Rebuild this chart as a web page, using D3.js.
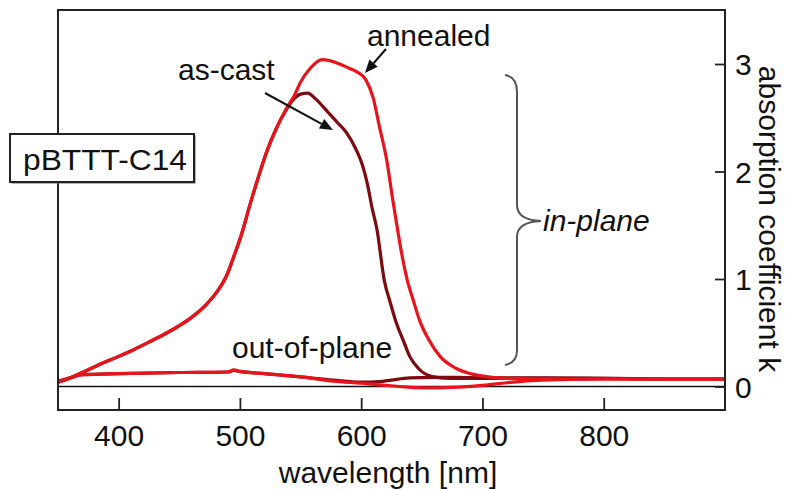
<!DOCTYPE html>
<html>
<head>
<meta charset="utf-8">
<script src="https://cdn.jsdelivr.net/npm/d3@7"></script>
<style>
  html, body { margin: 0; padding: 0; background: #fff; }
  svg { display: block; }
  text { font-family: "Liberation Sans", Arial, Helvetica, sans-serif; fill: #111; }
</style>
</head>
<body>
<svg id="chart" width="785" height="490"></svg>
<script>
// ---------------- data ----------------
const xTicks = [400, 500, 600, 700, 800];
const yTicks = [0, 1, 2, 3];

// in-plane, annealed (bright red)
const annealedWl = [350, 360, 372, 385, 400, 412, 428, 440, 452, 461, 472, 481, 489, 495, 502, 508, 515, 522, 530, 538, 545, 550, 558, 568, 580, 590, 596, 604, 610, 615, 621, 626, 630, 634, 638, 643, 648, 656, 665, 678, 690, 705, 720, 760, 800, 850, 900];
const annealedK  = [0.04, 0.08, 0.14, 0.21, 0.28, 0.34, 0.43, 0.50, 0.58, 0.65, 0.76, 0.88, 1.03, 1.21, 1.44, 1.68, 1.94, 2.18, 2.40, 2.58, 2.71, 2.83, 2.96, 3.04, 3.01, 2.96, 2.93, 2.85, 2.68, 2.42, 2.11, 1.74, 1.46, 1.20, 0.99, 0.80, 0.62, 0.43, 0.28, 0.17, 0.12, 0.09, 0.075, 0.07, 0.07, 0.07, 0.07];

// in-plane, as-cast (dark red)
const asCastWl = [350, 360, 372, 385, 400, 412, 428, 440, 452, 461, 472, 481, 489, 495, 502, 508, 515, 522, 530, 538, 545, 550, 556, 562, 572, 580, 588, 596, 601, 605, 609, 613, 619, 624, 629, 635, 640, 647, 654, 665, 680, 700, 750, 800, 850, 900];
const asCastK  = [0.04, 0.08, 0.14, 0.21, 0.28, 0.34, 0.43, 0.50, 0.58, 0.65, 0.76, 0.88, 1.03, 1.21, 1.44, 1.68, 1.94, 2.18, 2.40, 2.57, 2.68, 2.72, 2.73, 2.68, 2.56, 2.46, 2.36, 2.20, 2.06, 1.89, 1.66, 1.46, 0.99, 0.78, 0.59, 0.42, 0.28, 0.17, 0.11, 0.08, 0.075, 0.075, 0.075, 0.075, 0.07, 0.07];

// out-of-plane, annealed (bright red)
const oopAnnealedWl = [350, 360, 370, 400, 450, 490, 495, 500, 520, 550, 577, 600, 615, 632, 645, 660, 680, 700, 720, 740, 770, 800, 850, 900];
const oopAnnealedK  = [0.04, 0.08, 0.11, 0.12, 0.13, 0.135, 0.155, 0.14, 0.12, 0.09, 0.05, 0.03, 0.015, 0.0, -0.01, -0.012, -0.005, 0.01, 0.035, 0.055, 0.065, 0.07, 0.07, 0.07];

// out-of-plane, as-cast (dark red)
const oopAsCastWl = [350, 360, 370, 400, 450, 490, 495, 500, 520, 550, 577, 600, 615, 625, 640, 660, 680, 700, 750, 800, 850, 900];
const oopAsCastK  = [0.05, 0.08, 0.11, 0.12, 0.13, 0.135, 0.15, 0.14, 0.12, 0.09, 0.06, 0.04, 0.045, 0.06, 0.08, 0.085, 0.085, 0.08, 0.08, 0.075, 0.07, 0.07];

// ---------------- layout ----------------
const svg = d3.select("#chart");
const L = 58, R = 725, T = 10, B = 410;
const RED = "#e8141b", DARK = "#7e0a10";

const x = d3.scaleLinear().domain([350, 900]).range([L, R]);
const y = d3.scaleLinear().domain([0, 3]).range([386.5, 64]);

svg.append("defs").append("clipPath").attr("id", "clip")
  .append("rect").attr("x", L).attr("y", T).attr("width", R - L).attr("height", B - T);

// zero line
svg.append("line").attr("x1", L).attr("x2", R).attr("y1", y(0)).attr("y2", y(0))
  .attr("stroke", "#111").attr("stroke-width", 1.6);

const line = d3.line().x(d => x(d[0])).y(d => y(d[1])).curve(d3.curveMonotoneX);
const zip = (a, b) => a.map((v, i) => [v, b[i]]);

const curves = [
  [oopAsCastWl, oopAsCastK, DARK],
  [asCastWl, asCastK, DARK],
  [oopAnnealedWl, oopAnnealedK, RED],
  [annealedWl, annealedK, RED]
];
const g = svg.append("g").attr("clip-path", "url(#clip)");
curves.forEach(([w, k, c]) => {
  g.append("path").attr("d", line(zip(w, k)))
    .attr("fill", "none").attr("stroke", c).attr("stroke-width", 3.2)
    .attr("stroke-linejoin", "round").attr("stroke-linecap", "round");
});

// frame
svg.append("rect").attr("x", L).attr("y", T).attr("width", R - L).attr("height", B - T)
  .attr("fill", "none").attr("stroke", "#222").attr("stroke-width", 2);

// bottom axis (ticks inward)
const xAxis = svg.append("g").attr("transform", `translate(0,${B})`)
  .call(d3.axisBottom(x).tickValues(xTicks).tickSize(-12).tickPadding(24).tickFormat(d3.format("d")));
xAxis.select(".domain").remove();
xAxis.selectAll(".tick line").attr("stroke", "#222").attr("stroke-width", 1.8);
xAxis.selectAll(".tick text").attr("font-size", 30).attr("dy", null).attr("y", 36)
  .style("font-family", "'Liberation Sans', Arial, sans-serif").attr("fill", "#111");

// right axis (ticks inward)
const yAxis = svg.append("g").attr("transform", `translate(${R},0)`)
  .call(d3.axisRight(y).tickValues(yTicks).tickSize(-10).tickPadding(10).tickFormat(d3.format("d")));
yAxis.select(".domain").remove();
yAxis.selectAll(".tick line").attr("stroke", "#222").attr("stroke-width", 1.8);
yAxis.selectAll(".tick text").attr("font-size", 30).attr("x", 10).attr("dy", "0.36em")
  .style("font-family", "'Liberation Sans', Arial, sans-serif").attr("fill", "#111");

// axis titles
svg.append("text").attr("x", 388).attr("y", 483).attr("text-anchor", "middle")
  .attr("font-size", 30).text("wavelength [nm]");
svg.append("text").attr("transform", "translate(759,219) rotate(90)").attr("text-anchor", "middle")
  .attr("font-size", 30).text("absorption coefficient k");

// annotations
svg.append("text").attr("x", 367).attr("y", 46).attr("font-size", 30).text("annealed");
svg.append("text").attr("x", 178).attr("y", 80).attr("font-size", 30).text("as-cast");
svg.append("text").attr("x", 232).attr("y", 358).attr("font-size", 30).text("out-of-plane");

function arrow(x1, y1, x2, y2) {
  const ang = Math.atan2(y2 - y1, x2 - x1), len = 13, half = 5.5;
  const bx = x2 - len * Math.cos(ang), by = y2 - len * Math.sin(ang);
  svg.append("line").attr("x1", x1).attr("y1", y1).attr("x2", bx).attr("y2", by)
    .attr("stroke", "#111").attr("stroke-width", 2);
  const px = -Math.sin(ang) * half, py = Math.cos(ang) * half;
  svg.append("path").attr("d", `M${x2},${y2}L${bx + px},${by + py}L${bx - px},${by - py}Z`).attr("fill", "#111");
}
arrow(386, 49, 365, 73);
arrow(265, 93, 333, 130);

// brace + in-plane
svg.append("path")
  .attr("d", "M505,75 Q517,77 517,92 L517,205 Q517,220 541,221 Q517,222 517,237 L517,350 Q517,363 505,365")
  .attr("fill", "none").attr("stroke", "#555").attr("stroke-width", 2);
svg.append("text").attr("x", 543).attr("y", 231).attr("font-size", 30)
  .attr("font-style", "italic").attr("fill", "#333").text("in-plane");

// sample label box
svg.append("rect").attr("x", 11.5).attr("y", 135.5).attr("width", 184).attr("height", 48).attr("fill", "#666");
svg.append("rect").attr("x", 10).attr("y", 134).attr("width", 184).attr("height", 48)
  .attr("fill", "#fff").attr("stroke", "#222").attr("stroke-width", 2);
svg.append("text").attr("x", 23).attr("y", 170).attr("font-size", 30)
  .attr("textLength", 164).attr("lengthAdjust", "spacingAndGlyphs").text("pBTTT-C14");
</script>
</body>
</html>
